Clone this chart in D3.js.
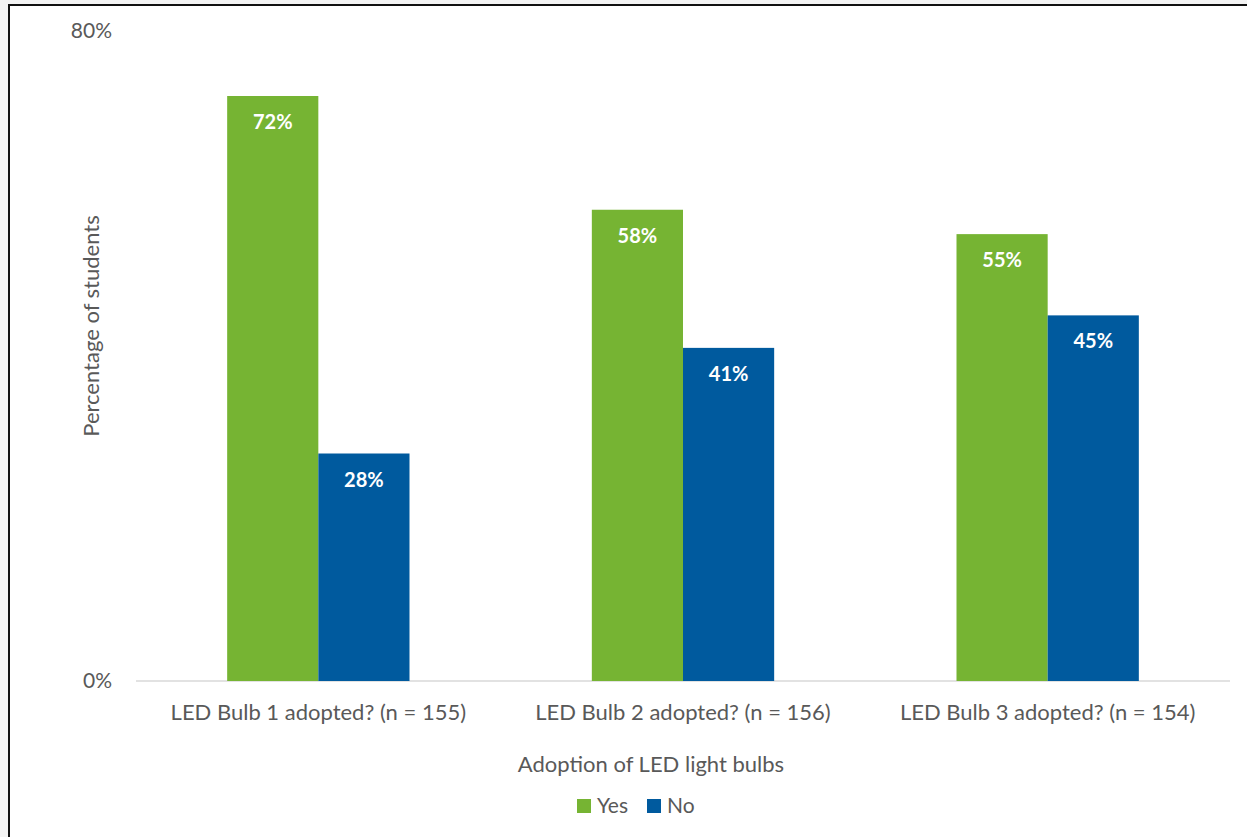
<!DOCTYPE html>
<html>
<head>
<meta charset="utf-8">
<script src="https://cdn.jsdelivr.net/npm/d3@7"></script>
<style>
  body { margin: 0; background: #f3f3f3; }
  svg { display: block; }
  text { font-family: Lato, "Open Sans", sans-serif; }
</style>
</head>
<body>
<div id="chart"></div>
<script>
const categories = ["LED Bulb 1 adopted? (n = 155)", "LED Bulb 2 adopted? (n = 156)", "LED Bulb 3 adopted? (n = 154)"];
const series = ["Yes", "No"];
const yesValues = [72, 58, 55];
const noValues = [28, 41, 45];
const yTicks = [0, 80];
const colors = { Yes: "#76b433", No: "#005a9e" };

const width = 1247, height = 837;
const svg = d3.select("#chart").append("svg")
    .attr("width", width)
    .attr("height", height);

// chart frame
svg.append("rect")
    .attr("x", 9).attr("y", 5)
    .attr("width", width).attr("height", height)
    .attr("fill", "#fff")
    .attr("stroke", "#111")
    .attr("stroke-width", 2);

const rows = categories.map((c, i) => ({ cat: c, Yes: yesValues[i], No: noValues[i] }));

const x0 = d3.scaleBand().domain(categories).range([136, 1230]);
const x1 = d3.scaleBand().domain(series)
    .range([x0.bandwidth() * 0.25, x0.bandwidth() * 0.75]);
const y = d3.scaleLinear().domain([0, 80]).range([681, 31]);

// baseline
svg.append("line")
    .attr("x1", 136).attr("x2", 1230)
    .attr("y1", y(0)).attr("y2", y(0))
    .attr("stroke", "#d9d9d9").attr("stroke-width", 1.5);

// y tick labels
svg.selectAll(".ytick").data(yTicks).join("text")
    .attr("class", "ytick")
    .attr("x", 112).attr("y", d => y(d))
    .attr("dy", "0.35em")
    .attr("text-anchor", "end")
    .attr("fill", "#595959")
    .attr("font-size", 21)
    .text(d => d + "%");

const groups = svg.selectAll(".grp").data(rows).join("g")
    .attr("class", "grp")
    .attr("transform", d => `translate(${x0(d.cat)},0)`);

groups.selectAll("rect")
    .data(d => series.map(s => ({ s, v: d[s] })))
    .join("rect")
    .attr("x", d => x1(d.s))
    .attr("width", x1.bandwidth())
    .attr("y", d => y(d.v))
    .attr("height", d => y(0) - y(d.v))
    .attr("fill", d => colors[d.s]);

groups.selectAll(".lbl")
    .data(d => series.map(s => ({ s, v: d[s] })))
    .join("text")
    .attr("class", "lbl")
    .attr("x", d => x1(d.s) + x1.bandwidth() / 2)
    .attr("y", d => y(d.v) + 33)
    .attr("text-anchor", "middle")
    .attr("fill", "#fff")
    .attr("font-weight", "bold")
    .attr("font-size", 20)
    .text(d => d.v + "%");

// category labels
svg.selectAll(".xlab").data(categories).join("text")
    .attr("class", "xlab")
    .attr("x", d => x0(d) + x0.bandwidth() / 2)
    .attr("y", 720)
    .attr("text-anchor", "middle")
    .attr("fill", "#595959")
    .attr("font-size", 22)
    .text(d => d);

// axis titles
svg.append("text")
    .attr("x", 651).attr("y", 772)
    .attr("text-anchor", "middle")
    .attr("fill", "#595959")
    .attr("font-size", 22)
    .text("Adoption of LED light bulbs");

svg.append("text")
    .attr("transform", "translate(99,326) rotate(-90)")
    .attr("text-anchor", "middle")
    .attr("fill", "#595959")
    .attr("font-size", 22)
    .text("Percentage of students");

// legend
const legend = svg.append("g").attr("transform", "translate(577,806)");
let lx = 0;
series.forEach(s => {
    const g = legend.append("g").attr("transform", `translate(${lx},0)`);
    g.append("rect").attr("x", 0).attr("y", -7).attr("width", 14).attr("height", 14)
        .attr("fill", colors[s]);
    g.append("text").attr("x", 20).attr("y", 0).attr("dy", "0.35em")
        .attr("fill", "#595959").attr("font-size", 21).text(s);
    lx += 70;
});
</script>
</body>
</html>
